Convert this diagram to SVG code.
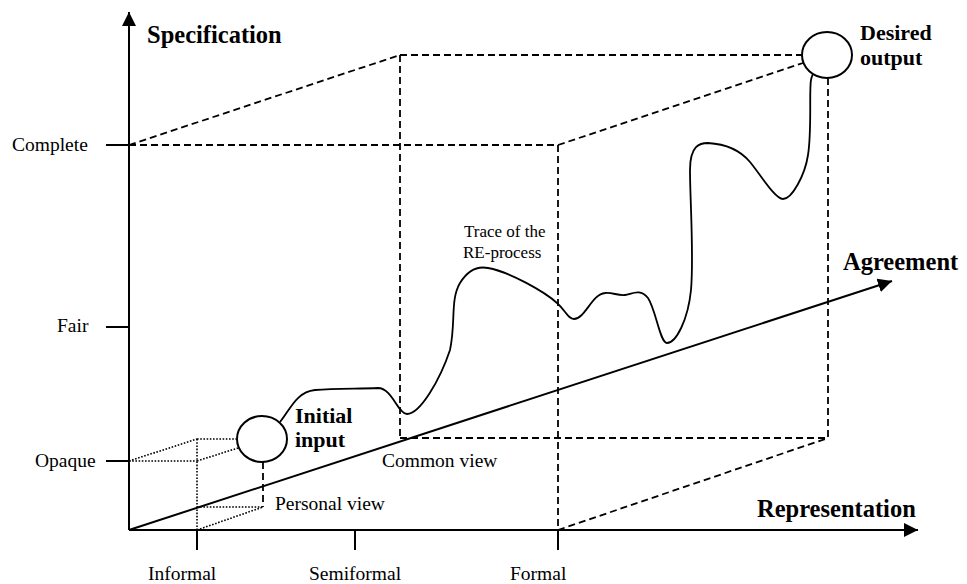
<svg xmlns="http://www.w3.org/2000/svg" width="967" height="584" viewBox="0 0 967 584">
  <style>
    .axis { stroke: #000; stroke-width: 2; fill: none; }
    .dash { stroke: #000; stroke-width: 1.8; fill: none; stroke-dasharray: 7 4; }
    .dot { stroke: #000; stroke-width: 1.6; fill: none; stroke-dasharray: 1.6 1.6; }
    .trace { stroke: #000; stroke-width: 1.8; fill: none; }
    .node { stroke: #000; stroke-width: 2; fill: #fff; }
    .lbl { font-family: "Liberation Serif", "Times New Roman", serif; font-size: 19.5px; fill: #000; }
    .small { font-family: "Liberation Serif", "Times New Roman", serif; font-size: 17px; fill: #000; }
    .axlbl { font-family: "Liberation Serif", "Times New Roman", serif; font-size: 24.5px; font-weight: bold; fill: #000; }
    .nlbl { font-family: "Liberation Serif", "Times New Roman", serif; font-size: 22px; font-weight: bold; fill: #000; }
  </style>
  <defs>
    <marker id="arrow" viewBox="0 0 14 14" refX="14" refY="7" markerWidth="14" markerHeight="14" markerUnits="userSpaceOnUse" orient="auto">
      <path d="M0,0 L14,7 L0,14 Z" fill="#000"/>
    </marker>
  </defs>

  <rect width="967" height="584" fill="#fff"/>

  <!-- axes, ticks and cube edges -->
  <g id="connectors">
    <line class="axis" x1="129" y1="530" x2="129" y2="12" marker-end="url(#arrow)"/>
    <line class="axis" x1="129" y1="530" x2="918" y2="530" marker-end="url(#arrow)"/>
    <line class="axis" x1="129" y1="530" x2="892" y2="281" marker-end="url(#arrow)"/>

    <!-- ticks -->
    <line class="axis" x1="106" y1="145" x2="129" y2="145"/>
    <line class="axis" x1="106" y1="327" x2="129" y2="327"/>
    <line class="axis" x1="106" y1="461" x2="129" y2="461"/>
    <line class="axis" x1="197" y1="530" x2="197" y2="550"/>
    <line class="axis" x1="355" y1="530" x2="355" y2="550"/>
    <line class="axis" x1="558" y1="530" x2="558" y2="550"/>

    <!-- dashed cube -->
    <line class="dash" x1="129" y1="145" x2="558" y2="145"/>
    <line class="dash" x1="129" y1="145" x2="400" y2="55"/>
    <line class="dash" x1="400" y1="55" x2="802" y2="55"/>
    <line class="dash" x1="558" y1="145" x2="803" y2="63"/>
    <line class="dash" x1="400" y1="55" x2="400" y2="438"/>
    <line class="dash" x1="558" y1="145" x2="558" y2="530"/>
    <line class="dash" x1="828" y1="78" x2="828" y2="438"/>
    <line class="dash" x1="400" y1="438" x2="828" y2="438"/>
    <line class="dash" x1="558" y1="530" x2="828" y2="438"/>

    <!-- dotted small cube -->
    <line class="dot" x1="129" y1="461" x2="197" y2="461"/>
    <line class="dot" x1="129" y1="461" x2="197" y2="439"/>
    <line class="dot" x1="197" y1="439" x2="238" y2="439"/>
    <line class="dot" x1="197" y1="461" x2="238" y2="448"/>
    <line class="dot" x1="197" y1="439" x2="197" y2="530"/>
    <line class="dot" x1="197" y1="507" x2="263" y2="507"/>
    <line class="dot" x1="197" y1="530" x2="263" y2="507"/>
    <line class="dash" x1="263" y1="462" x2="263" y2="507"/>

    <!-- trace of the RE-process -->
    <path class="trace" d="M280,422 C290,410 296,392 315,390 C335,388 360,389 378,388 C392,388 398,414 407,414 C420,414 440,380 450,350 C456,322 450,300 460,283 C468,270 478,266 488,268 C510,272 545,292 557,303 C566,311 568,319 574,319 C585,319 592,294 605,293 C612,292 618,296 625,295 C632,294 640,288 648,298 C656,310 660,343 667,343 C676,343 688,320 691,290 C694,255 690,200 690,170 C690,145 700,143 708,143 C725,144 740,150 750,162 C760,174 775,199 783,199 C792,199 805,175 808,155 C812,130 809,90 811,80 C812,75 813,73 815,72"/>
  </g>

  <g id="initial-input">
    <ellipse class="node" cx="262" cy="439" rx="25" ry="23"/>
    <text class="nlbl" x="295" y="423">Initial</text>
    <text class="nlbl" x="295" y="447">input</text>
  </g>

  <g id="desired-output">
    <ellipse class="node" cx="827" cy="55" rx="25" ry="23"/>
    <text class="nlbl" x="860" y="40">Desired</text>
    <text class="nlbl" x="860" y="65">output</text>
  </g>

  <g id="axis-labels">
    <text class="axlbl" x="147" y="43">Specification</text>
    <text class="axlbl" x="843" y="270">Agreement</text>
    <text class="axlbl" x="757" y="517">Representation</text>
  </g>

  <g id="scale-labels">
    <text class="lbl" x="12" y="151">Complete</text>
    <text class="lbl" x="57" y="332">Fair</text>
    <text class="lbl" x="35" y="467">Opaque</text>
    <text class="lbl" x="148" y="580">Informal</text>
    <text class="lbl" x="309" y="580">Semiformal</text>
    <text class="lbl" x="510" y="580">Formal</text>
  </g>

  <g id="view-labels">
    <text class="lbl" x="275" y="510">Personal view</text>
    <text class="lbl" x="382" y="467">Common view</text>
    <text class="small" x="464" y="237">Trace of the</text>
    <text class="small" x="463" y="258">RE-process</text>
  </g>
</svg>
